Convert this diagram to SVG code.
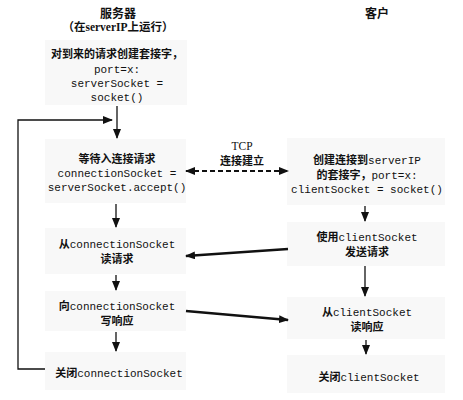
<svg xmlns="http://www.w3.org/2000/svg" width="463" height="400" viewBox="0 0 463 400">
<style>
.box{fill:#f8f8f8;stroke:none}
text{text-anchor:middle;fill:#111}
.zh{font-family:"Noto Sans CJK SC",sans-serif;font-weight:bold;font-size:11px}
.mono{font-family:"Liberation Mono","DejaVu Sans Mono",monospace;font-size:11px}
.ser{font-family:"Liberation Serif","Noto Sans CJK SC",serif;font-weight:bold;font-size:11.5px}
.title{font-family:"Noto Sans CJK SC",sans-serif;font-weight:bold;font-size:12px}
.ln{fill:none;stroke:#111;stroke-width:1.3}
.thick{fill:none;stroke:#111;stroke-width:2.6}
.dash{fill:none;stroke:#111;stroke-width:2.2;stroke-dasharray:5 3}
</style>
<defs>
<marker id="ah" markerUnits="userSpaceOnUse" markerWidth="10" markerHeight="8" refX="9" refY="4" orient="auto-start-reverse">
<path d="M0,0 L10,4 L0,8 Z" fill="#111"/>
</marker>
</defs>
<rect width="463" height="400" fill="#fff"/>
<g id="titles">
<text class="title" x="118" y="18">服务器</text>
<text class="ser" x="118" y="31">（在serverIP上运行）</text>
<text class="title" x="377" y="18">客户</text>
</g>
<g id="node-s1">
<rect class="box" x="45" y="40" width="142" height="65"/>
<text class="zh" x="117" y="58">对到来的请求创建套接字，</text>
<text class="mono" x="117" y="73">port=x:</text>
<text class="mono" x="117" y="87">serverSocket =</text>
<text class="mono" x="117" y="101">socket()</text>
</g>
<g id="node-s2">
<rect class="box" x="45" y="139" width="141" height="64"/>
<text class="zh" x="117" y="163">等待入连接请求</text>
<text class="mono" x="117" y="177">connectionSocket =</text>
<text class="mono" x="117" y="191">serverSocket.accept()</text>
</g>
<g id="node-s3">
<rect class="box" x="45" y="228" width="141" height="46"/>
<text x="117" y="248"><tspan class="zh">从</tspan><tspan class="mono">connectionSocket</tspan></text>
<text class="zh" x="117" y="263">读请求</text>
</g>
<g id="node-s4">
<rect class="box" x="45" y="291" width="141" height="40"/>
<text x="117" y="310"><tspan class="zh">向</tspan><tspan class="mono">connectionSocket</tspan></text>
<text class="zh" x="117" y="325">写响应</text>
</g>
<g id="node-s5">
<rect class="box" x="45" y="352" width="141" height="38"/>
<text x="119" y="377"><tspan class="zh">关闭</tspan><tspan class="mono">connectionSocket</tspan></text>
</g>
<g id="node-c1">
<rect class="box" x="287" y="138" width="158" height="67"/>
<text x="367" y="164"><tspan class="zh">创建连接到</tspan><tspan class="mono">serverIP</tspan></text>
<text x="367" y="179"><tspan class="zh">的套接字，</tspan><tspan class="mono">port=x:</tspan></text>
<text class="mono" x="367" y="193">clientSocket = socket()</text>
</g>
<g id="node-c2">
<rect class="box" x="287" y="222" width="158" height="44"/>
<text x="367" y="241"><tspan class="zh">使用</tspan><tspan class="mono">clientSocket</tspan></text>
<text class="zh" x="367" y="256">发送请求</text>
</g>
<g id="node-c3">
<rect class="box" x="287" y="297" width="158" height="42"/>
<text x="367" y="316"><tspan class="zh">从</tspan><tspan class="mono">clientSocket</tspan></text>
<text class="zh" x="367" y="331">读响应</text>
</g>
<g id="node-c4">
<rect class="box" x="287" y="355" width="158" height="38"/>
<text x="369" y="381"><tspan class="zh">关闭</tspan><tspan class="mono">clientSocket</tspan></text>
</g>
<g id="connectors">
<line class="ln" x1="117" y1="106" x2="117" y2="138" marker-end="url(#ah)"/>
<polyline class="ln" points="45,369 18,369 18,120 112,120" marker-end="url(#ah)"/>
<line class="ln" x1="116" y1="204" x2="116" y2="227" marker-end="url(#ah)"/>
<line class="ln" x1="116" y1="275" x2="116" y2="290" marker-end="url(#ah)"/>
<line class="ln" x1="116" y1="332" x2="116" y2="351" marker-end="url(#ah)"/>
<line class="ln" x1="365" y1="206" x2="365" y2="221" marker-end="url(#ah)"/>
<line class="ln" x1="365" y1="266" x2="365" y2="296" marker-end="url(#ah)"/>
<line class="ln" x1="366" y1="340" x2="366" y2="354" marker-end="url(#ah)"/>
<line class="dash" x1="186" y1="171" x2="288" y2="171" marker-start="url(#ah)" marker-end="url(#ah)"/>
<line class="thick" x1="288" y1="249" x2="186" y2="256" marker-end="url(#ah)"/>
<line class="thick" x1="186" y1="311" x2="288" y2="320" marker-end="url(#ah)"/>
<text class="ser" x="242" y="150" style="font-weight:normal">TCP</text>
<text class="zh" x="242" y="165">连接建立</text>
</g>
</svg>
